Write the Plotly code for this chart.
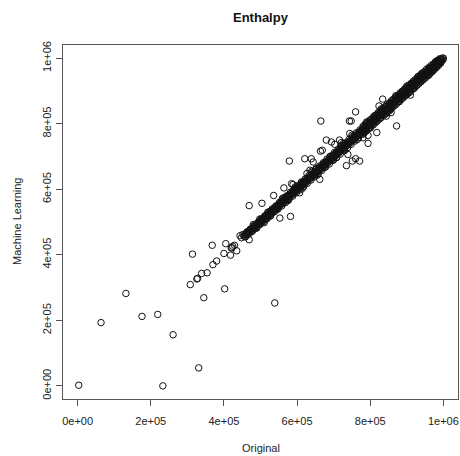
import plotly.graph_objects as go

# ---- data (values in thousands) ----
outlier_x = [3, 64, 132, 176, 219, 261, 233, 331, 314, 368, 308, 326, 328, 339, 354, 345, 370, 380,
             402, 400, 405, 418, 422, 429, 435, 444, 469, 420, 424, 539, 553, 582, 469, 504, 536, 564,
             585, 589, 607, 627, 635, 579, 621, 639, 644, 662, 664, 669, 680, 694, 703, 716, 721, 744,
             665, 743, 735, 751, 760, 771, 739, 794, 818, 872, 760, 834, 824, 910, 857, 844, 794, 780,
             957, 966, 748]
outlier_y = [2, 193, 282, 212, 218, 156, 0, 55, 402, 429, 309, 326, 328, 343, 345, 269, 370, 381,
             296, 404, 434, 399, 421, 429, 412, 458, 446, 421, 426, 253, 512, 517, 550, 557, 581, 604,
             617, 614, 589, 648, 658, 686, 693, 693, 683, 630, 716, 719, 750, 744, 737, 750, 742, 770,
             808, 808, 672, 686, 693, 686, 706, 740, 773, 793, 836, 875, 854, 887, 834, 823, 764, 757,
             958, 961, 808]

near_x = [480, 510, 520, 545, 560, 575, 595, 615, 640, 655, 690, 700, 720, 730, 750, 765, 790, 800,
          830, 845, 870, 880, 900, 920, 940, 960, 980, 448, 452, 458, 463, 490, 498, 527, 566, 612,
          652, 676, 708, 727, 783, 812, 853, 888, 907, 931, 972]
near_y = [492, 498, 530, 538, 572, 565, 607, 603, 655, 643, 700, 690, 733, 718, 765, 752, 805, 787,
          845, 832, 885, 868, 915, 908, 952, 948, 990, 452, 462, 455, 470, 482, 509, 518, 575, 622,
          663, 667, 697, 740, 771, 824, 840, 899, 895, 944, 963]

band_x = [455, 460, 465, 470, 475, 480, 485, 490, 495, 500, 505, 510, 515, 520, 525, 530, 535, 540,
          545, 550, 555, 560, 565, 570, 575, 580, 585, 590, 595, 600, 605, 610, 615, 620, 625, 630,
          635, 640, 645, 650, 655, 660, 665, 670, 675, 680, 685, 690, 695, 700, 705, 710, 715, 720,
          725, 730, 735, 740, 745, 750, 755, 760, 765, 770, 775, 780, 785, 790, 795, 800, 805, 810,
          815, 820, 825, 830, 835, 840, 845, 850, 855, 860, 865, 870, 875, 880, 885, 890, 895, 900,
          905, 910, 915, 920, 925, 930, 935, 940, 945, 950, 955, 960, 965, 970, 975, 980, 985, 990,
          995, 1000]
band_y = [457, 463, 466, 471, 478, 482, 486, 493, 497, 502, 506, 509, 517, 522, 524, 531, 537, 541,
          546, 552, 556, 561, 566, 569, 577, 582, 586, 591, 596, 602, 604, 611, 617, 621, 626, 632,
          636, 641, 646, 652, 654, 661, 666, 671, 676, 682, 686, 691, 696, 702, 704, 711, 716, 721,
          726, 731, 736, 741, 746, 751, 756, 762, 766, 771, 776, 781, 786, 791, 796, 801, 806, 811,
          816, 821, 826, 831, 836, 841, 846, 851, 856, 861, 866, 871, 876, 881, 886, 891, 896, 901,
          906, 911, 916, 921, 926, 931, 936, 941, 946, 951, 956, 961, 966, 971, 976, 981, 986, 991,
          996, 1000]

band2_x = [457, 462, 467, 472, 477, 482, 487, 492, 497, 502, 507, 512, 517, 522, 527, 532, 537, 542,
           547, 552, 557, 562, 567, 572, 577, 582, 587, 592, 597, 602, 607, 612, 617, 622, 627, 632,
           637, 642, 647, 652, 657, 662, 667, 672, 677, 682, 687, 692, 697, 702, 707, 712, 717, 722,
           727, 732, 737, 742, 747, 752, 757, 762, 767, 772, 777, 782, 787, 792, 797, 802, 807, 812,
           817, 822, 827, 832, 837, 842, 847, 852, 857, 862, 867, 872, 877, 882, 887, 892, 897, 902,
           907, 912, 917, 922, 927, 932, 937, 942, 947, 952, 957, 962, 967, 972, 977, 982, 987, 992,
           997]
band2_y = [461, 466, 472, 476, 481, 487, 491, 496, 502, 506, 511, 517, 521, 526, 532, 536, 541, 547,
           551, 556, 562, 566, 571, 577, 581, 586, 592, 596, 601, 607, 611, 616, 622, 626, 631, 637,
           641, 646, 652, 656, 661, 667, 671, 676, 682, 686, 691, 697, 701, 706, 712, 716, 721, 727,
           731, 736, 742, 746, 751, 757, 761, 766, 772, 776, 781, 787, 791, 796, 802, 806, 811, 817,
           821, 826, 832, 836, 841, 847, 851, 856, 862, 866, 871, 877, 881, 886, 892, 896, 901, 907,
           911, 916, 922, 926, 931, 937, 941, 946, 952, 956, 961, 967, 971, 976, 982, 986, 991, 996,
           1000]

band3_x = [459, 464, 469, 474, 479, 484, 489, 494, 499, 504, 509, 514, 519, 524, 529, 534, 539, 544,
           549, 554, 559, 564, 569, 574, 579, 584, 589, 594, 599, 604, 609, 614, 619, 624, 629, 634,
           639, 644, 649, 654, 659, 664, 669, 674, 679, 684, 689, 694, 699, 704, 709, 714, 719, 724,
           729, 734, 739, 744, 749, 754, 759, 764, 769, 774, 779, 784, 789, 794, 799, 804, 809, 814,
           819, 824, 829, 834, 839, 844, 849, 854, 859, 864, 869, 874, 879, 884, 889, 894, 899, 904,
           909, 914, 919, 924, 929, 934, 939, 944, 949, 954, 959, 964, 969, 974, 979, 984, 989, 994,
           999]
band3_y = [455, 461, 465, 470, 476, 480, 485, 491, 495, 500, 506, 510, 515, 521, 525, 530, 536, 540,
           545, 551, 555, 560, 566, 570, 575, 581, 585, 590, 596, 600, 605, 611, 615, 620, 626, 630,
           635, 641, 645, 650, 656, 660, 665, 671, 675, 680, 686, 690, 695, 701, 705, 710, 716, 720,
           725, 731, 735, 740, 746, 750, 755, 761, 765, 770, 776, 780, 785, 791, 795, 800, 806, 810,
           815, 821, 825, 830, 836, 840, 845, 851, 855, 860, 866, 870, 875, 881, 885, 890, 896, 900,
           905, 911, 915, 920, 926, 930, 935, 941, 945, 950, 956, 960, 965, 971, 975, 980, 986, 990,
           995]

upper_x = [472, 482, 492, 502, 512, 522, 532, 542, 552, 562, 572, 582, 592, 602, 612, 622, 632, 642,
           652, 662, 672, 682, 692, 702, 712, 722, 732, 742, 752, 762, 772, 782, 792, 802, 812, 822,
           832, 842, 852, 862, 872, 882, 892, 902, 912, 922, 932, 942, 952, 962, 972, 982, 992]
upper_y = [478, 489, 498, 509, 519, 530, 540, 549, 560, 571, 580, 591, 601, 611, 620, 631, 641, 652,
           661, 671, 681, 692, 701, 712, 721, 732, 741, 752, 761, 772, 781, 792, 801, 812, 821, 831,
           841, 852, 861, 871, 881, 891, 901, 911, 920, 930, 940, 950, 959, 969, 978, 988, 996]

lower_x = [478, 488, 498, 508, 518, 528, 538, 548, 558, 568, 578, 588, 598, 608, 618, 628, 638, 648,
           658, 668, 678, 688, 698, 708, 718, 728, 738, 748, 758, 768, 778, 788, 798, 808, 818, 828,
           838, 848, 858, 868, 878, 888, 898, 908, 918, 928, 938, 948, 958, 968, 978, 988]
lower_y = [472, 481, 492, 501, 510, 520, 531, 540, 549, 559, 569, 579, 589, 598, 608, 618, 628, 638,
           647, 658, 668, 677, 688, 697, 707, 718, 727, 737, 747, 757, 767, 777, 787, 797, 807, 817,
           827, 837, 847, 857, 867, 878, 888, 898, 908, 918, 929, 939, 950, 961, 971, 982]

top_hi_x = [780, 786, 792, 798, 804, 810, 816, 822, 828, 834, 840, 846, 852, 858, 864, 870, 876, 882,
            888, 894, 900, 906, 912, 918, 924, 930, 936, 942, 948, 954, 960, 966, 972, 978, 984, 990]
top_hi_y = [791, 798, 803, 810, 815, 822, 827, 834, 839, 846, 851, 858, 863, 870, 875, 882, 887, 894,
            899, 906, 911, 918, 923, 930, 935, 942, 947, 954, 959, 966, 971, 977, 982, 988, 993, 998]
top_lo_x = [783, 789, 795, 801, 807, 813, 819, 825, 831, 837, 843, 849, 855, 861, 867, 873, 879, 885,
            891, 897, 903, 909, 915, 921, 927, 933, 939, 945, 951, 957, 963, 969, 975, 981, 987, 993]
top_lo_y = [772, 778, 784, 790, 796, 802, 808, 814, 820, 826, 832, 838, 844, 850, 856, 862, 868, 874,
            880, 886, 892, 898, 904, 910, 916, 922, 928, 934, 940, 946, 952, 958, 965, 971, 978, 985]

tick_vals = [0, 200000, 400000, 600000, 800000, 1000000]
tick_text = ["0e+00", "2e+05", "4e+05", "6e+05", "8e+05", "1e+06"]

groups = [(outlier_x, outlier_y), (near_x, near_y), (band_x, band_y), (band2_x, band2_y),
          (band3_x, band3_y), (upper_x, upper_y), (lower_x, lower_y),
          (top_hi_x, top_hi_y), (top_lo_x, top_lo_y)]
xs, ys = [], []
for gx, gy in groups:
    for a, b in zip(gx, gy):
        xs.append(a * 1000)
        ys.append(b * 1000)

fig = go.Figure()
fig.add_trace(go.Scatter(
    x=xs, y=ys, mode="markers",
    marker=dict(symbol="circle-open", size=6.5, color="#111111", line=dict(width=1, color="#111111")),
    showlegend=False, hoverinfo="skip",
))

font_family = "Liberation Sans, Arial, sans-serif"
axis_common = dict(
    showline=True, linecolor="#555555", linewidth=1, mirror=True,
    ticks="outside", ticklen=6, tickcolor="#555555", tickwidth=1,
    showgrid=False, zeroline=False,
    tickvals=tick_vals, ticktext=tick_text,
    tickfont=dict(family=font_family, size=11, color="#222222"),
)

L, R, T, B = 63, 2, 45, 57
W, H = 460, 456
plot_w = W - L - R
plot_h = H - T - B

fig.update_layout(
    width=W, height=H,
    margin=dict(l=L, r=R, t=T, b=B),
    paper_bgcolor="white", plot_bgcolor="white",
    xaxis=dict(range=[-40000, 1040000], ticklabelstandoff=6, **axis_common),
    yaxis=dict(range=[-40000, 1040000], tickangle=-90, ticklabelstandoff=1, **axis_common),
    annotations=[
        dict(text="<b>Enthalpy</b>", x=(261 - L) / plot_w, y=(H - B - 18) / plot_h,
             xref="paper", yref="paper", xanchor="center", yanchor="middle", showarrow=False,
             font=dict(family=font_family, size=13, color="#111111")),
        dict(text="Original", x=0.5, y=-(448 - (H - B)) / plot_h,
             xref="paper", yref="paper", xanchor="center", yanchor="middle", showarrow=False,
             font=dict(family=font_family, size=11, color="#222222")),
        dict(text="Machine Learning", x=-(L - 17) / plot_w, y=0.5,
             xref="paper", yref="paper", xanchor="center", yanchor="middle", showarrow=False,
             textangle=-90, font=dict(family=font_family, size=11, color="#222222")),
    ],
)

fig.write_html("out.html")
